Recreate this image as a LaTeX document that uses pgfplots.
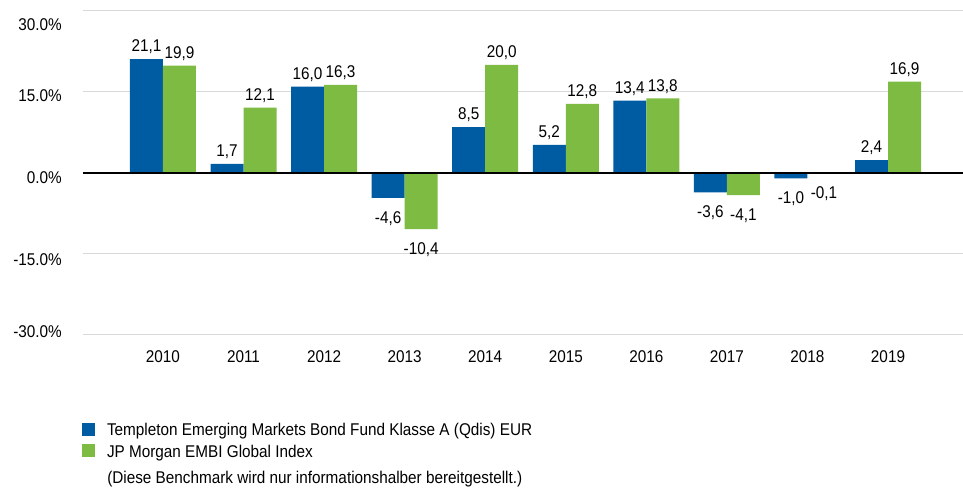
\documentclass[border=0pt]{standalone}
\usepackage{fontspec}
\setmainfont{Liberation Sans}[FakeStretch=0.9]
\usepackage{pgfplots}
\pgfplotsset{compat=1.18}
\definecolor{fundblue}{RGB}{0,92,162}
\definecolor{idxgreen}{RGB}{126,187,66}
\definecolor{gridgray}{RGB}{217,217,217}
\newcommand{\cf}{\fontsize{12.75pt}{15pt}\selectfont}
\pgfplotsset{sqlegend/.style={legend image code/.code={\fill[##1] (0pt,0pt) rectangle (9.75pt,9.75pt);}}}
\begin{document}
\cf
\begin{tikzpicture}
\begin{axis}[
  at={(0,0)}, anchor=south west,
  scale only axis,
  width=660pt, height=243pt,
  xmin=-0.993, xmax=9.931,
  ymin=-30, ymax=30,
  ybar=0pt, bar width=24.75pt,
  axis line style={draw=none},
  major tick length=0pt,
  xtick={0,...,9},
  xticklabels={2010,2011,2012,2013,2014,2015,2016,2017,2018,2019},
  ytick={-30,-15,0,15,30},
  yticklabels={\smash{\raisebox{-1.56pt}{-30.0\%}},\smash{\raisebox{-8.3pt}{-15.0\%}},\smash{\raisebox{-7.56pt}{0.0\%}},\smash{\raisebox{-6.8pt}{15.0\%}},\smash{\raisebox{-14.3pt}{30.0\%}}},
  ymajorgrids, grid style={gridgray, line width=0.75pt},
  tick label style={font=\cf},
  yticklabel style={anchor=east, inner sep=0pt, xshift=-15.75pt},
  xticklabel style={anchor=north, inner sep=0pt, yshift=-11.25pt},
  /pgf/number format/assume math mode=true,
  nodes near coords={\pgfmathprintnumber[fixed,fixed zerofill,precision=1,use comma]{\pgfplotspointmeta}},
  visualization depends on={(rawy<0)*(-15)+5.25 \as \myshift},
  every node near coord/.append style={font=\cf, inner sep=0pt, text height=9.1pt, text depth=0pt, black,
     yshift=\myshift pt},
  legend style={at={(axis description cs:0,0)}, anchor=north west, xshift=-0.75pt, yshift=-66pt,
     draw=none, fill=none, inner sep=0pt, outer sep=0pt, row sep=3pt, column sep=9pt,
     font=\cf, cells={anchor=base west}, nodes={inner sep=0pt, text height=9.75pt, text depth=3pt}},
]
\addplot[fill=fundblue, draw=none, sqlegend] coordinates {(0,21.1) (1,1.7) (2,16.0) (3,-4.6) (4,8.5) (5,5.2) (6,13.4) (7,-3.6) (8,-1.0) (9,2.4)};
\addlegendentry{Templeton Emerging Markets Bond Fund Klasse A (Qdis) EUR}
\addplot[fill=idxgreen, draw=none, sqlegend] coordinates {(0,19.9) (1,12.1) (2,16.3) (3,-10.4) (4,20.0) (5,12.8) (6,13.8) (7,-4.1) (8,-0.1) (9,16.9)};
\addlegendentry{JP Morgan EMBI Global Index}
\draw[black, line width=0.8pt] (rel axis cs:0,0.5) -- (rel axis cs:1,0.5);
\end{axis}
\node[anchor=base west, inner sep=0pt, font=\cf] at ([xshift=18pt, yshift=-111pt]current axis.south west) {(Diese Benchmark wird nur informationshalber bereitgestellt.)};
\pgfresetboundingbox
\path ([xshift=-62.25pt,yshift=-114.75pt]current axis.south west) rectangle ([yshift=8.25pt]current axis.north east);
\end{tikzpicture}
\end{document}
